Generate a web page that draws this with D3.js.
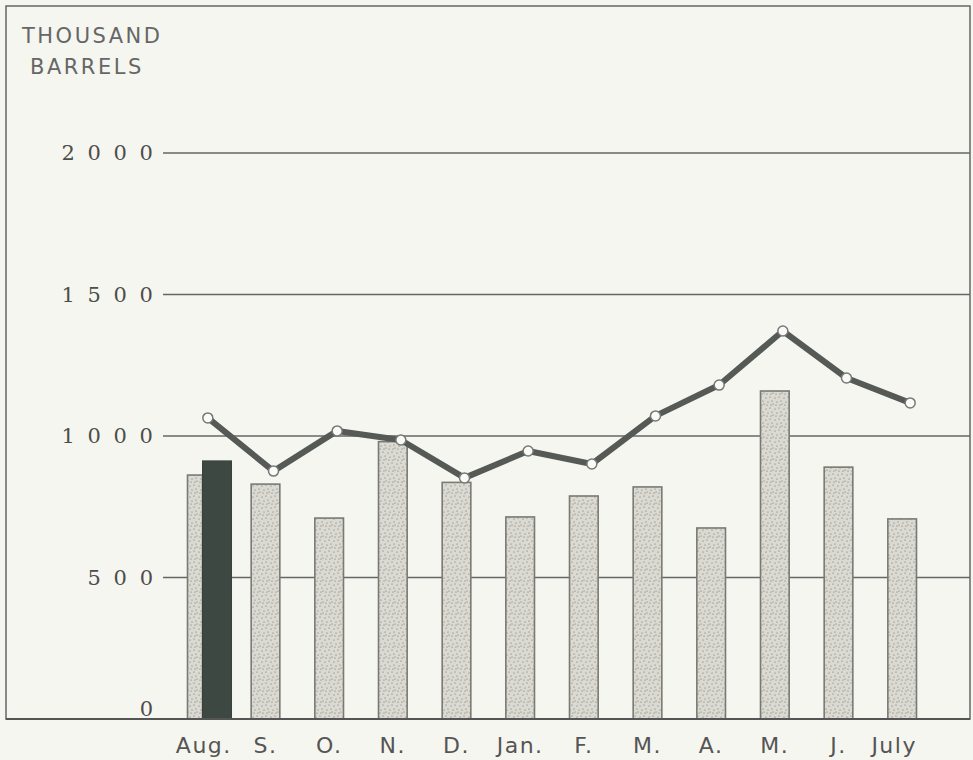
<!DOCTYPE html>
<html>
<head>
<meta charset="utf-8">
<script src="https://cdn.jsdelivr.net/npm/d3@7"></script>
<style>
  body { margin: 0; background: #f6f6f0; }
  svg { display: block; }
</style>
</head>
<body>
<div id="chart"></div>
<script>
var months = ["Aug.", "S.", "O.", "N.", "D.", "Jan.", "F.", "M.", "A.", "M.", "J.", "July"];
var monthKeys = ["aug", "sep", "oct", "nov", "dec", "jan", "feb", "mar", "apr", "may", "jun", "jul"];
var barValues = [862, 830, 710, 980, 836, 714, 788, 820, 675, 1159, 890, 707];
var currentAug = 912;
var lineValues = [1064, 876, 1018, 986, 852, 947, 901, 1071, 1180, 1371, 1205, 1117];
var yTicks = [0, 500, 1000, 1500, 2000];
var yTickLabels = ["0", "5 0 0", "1 0 0 0", "1 5 0 0", "2 0 0 0"];

var svgWidth = 973;
var svgHeight = 760;

var svg = d3.select("#chart")
  .append("svg")
  .attr("width", svgWidth)
  .attr("height", svgHeight);

// stipple texture for the light bars
var defs = svg.append("defs");
var pat = defs.append("pattern")
  .attr("id", "stipple")
  .attr("patternUnits", "userSpaceOnUse")
  .attr("width", 9)
  .attr("height", 11);
pat.append("rect").attr("width", 9).attr("height", 11).attr("fill", "#dadad3");
[[1, 2], [5, 1], [3, 6], [7, 5], [2, 9], [6, 9], [8, 8]].forEach(function(p) {
  pat.append("circle").attr("cx", p[0]).attr("cy", p[1]).attr("r", 0.55).attr("fill", "#66665f");
});

var x = d3.scaleBand()
  .domain(monthKeys)
  .range([170, 934])
  .paddingInner(0.55)
  .paddingOuter(0.275);

var y = d3.scaleLinear()
  .domain([0, 2000])
  .range([719, 153]);

var bw = x.bandwidth();

// frame
svg.append("rect")
  .attr("x", 6).attr("y", 6)
  .attr("width", 964).attr("height", 713)
  .attr("fill", "none")
  .attr("stroke", "#666")
  .attr("stroke-width", 1.5);

// grid lines
svg.append("g").selectAll("line")
  .data(yTicks.filter(d => d > 0))
  .enter()
  .append("line")
  .attr("x1", 163).attr("x2", 970)
  .attr("y1", d => y(d)).attr("y2", d => y(d))
  .attr("stroke", "#666")
  .attr("stroke-width", 1.6);

// y tick labels
svg.append("g").selectAll("text")
  .data(yTicks)
  .enter()
  .append("text")
  .attr("x", 156)
  .attr("y", d => y(d) + (d === 0 ? -3 : 7))
  .attr("text-anchor", "end")
  .attr("font-family", "'DejaVu Serif', serif")
  .attr("font-size", 21)
  .attr("letter-spacing", 3)
  .attr("fill", "#4d4d4a")
  .text((d, i) => yTickLabels[i]);

// unit title
svg.append("text")
  .attr("x", 22).attr("y", 43)
  .attr("font-family", "'DejaVu Sans', sans-serif")
  .attr("font-size", 21)
  .attr("fill", "#666")
  .attr("letter-spacing", 2.5)
  .text("THOUSAND");
svg.append("text")
  .attr("x", 30).attr("y", 74)
  .attr("font-family", "'DejaVu Sans', sans-serif")
  .attr("font-size", 21)
  .attr("fill", "#666")
  .attr("letter-spacing", 2.5)
  .text("BARRELS");

// bars (first one is last year's August, drawn narrow beside the current bar)
svg.append("g").selectAll("rect")
  .data(barValues)
  .enter()
  .append("rect")
  .attr("x", (d, i) => x(monthKeys[i]))
  .attr("y", d => y(d))
  .attr("width", (d, i) => i === 0 ? 15 : bw)
  .attr("height", d => y(0) - y(d))
  .attr("fill", "url(#stipple)")
  .attr("stroke", "#7a7a74")
  .attr("stroke-width", 1.6);

// current August bar
svg.append("rect")
  .attr("x", x("aug") + 15)
  .attr("y", y(currentAug))
  .attr("width", 29)
  .attr("height", y(0) - y(currentAug))
  .attr("fill", "#3e4843")
  .attr("stroke", "#3a403c")
  .attr("stroke-width", 1);

// line
var lineData = lineValues.map((v, i) => ({ key: monthKeys[i], v: v }));
var px = d => x(d.key) + bw / 2 + (d.key === "aug" ? 6 : 8);
var line = d3.line()
  .x(px)
  .y(d => y(d.v));

svg.append("path")
  .datum(lineData)
  .attr("d", line)
  .attr("fill", "none")
  .attr("stroke", "#555a56")
  .attr("stroke-width", 6)
  .attr("stroke-linejoin", "round");

svg.append("g").selectAll("circle")
  .data(lineData)
  .enter()
  .append("circle")
  .attr("cx", px)
  .attr("cy", d => y(d.v))
  .attr("r", 5)
  .attr("fill", "#fafaf6")
  .attr("stroke", "#777")
  .attr("stroke-width", 1.5);

// x axis line
svg.append("line")
  .attr("x1", 6).attr("x2", 970)
  .attr("y1", y(0)).attr("y2", y(0))
  .attr("stroke", "#555")
  .attr("stroke-width", 2);

// month labels
svg.append("g").selectAll("text")
  .data(months)
  .enter()
  .append("text")
  .attr("x", (d, i) => x(monthKeys[i]) + bw / 2 + (i === 0 ? 2 : 0) + (i === 11 ? -8 : 0))
  .attr("y", 753)
  .attr("text-anchor", "middle")
  .attr("font-family", "'DejaVu Sans', sans-serif")
  .attr("font-size", 22)
  .attr("letter-spacing", 1.5)
  .attr("fill", "#555")
  .text(d => d);
</script>
</body>
</html>
